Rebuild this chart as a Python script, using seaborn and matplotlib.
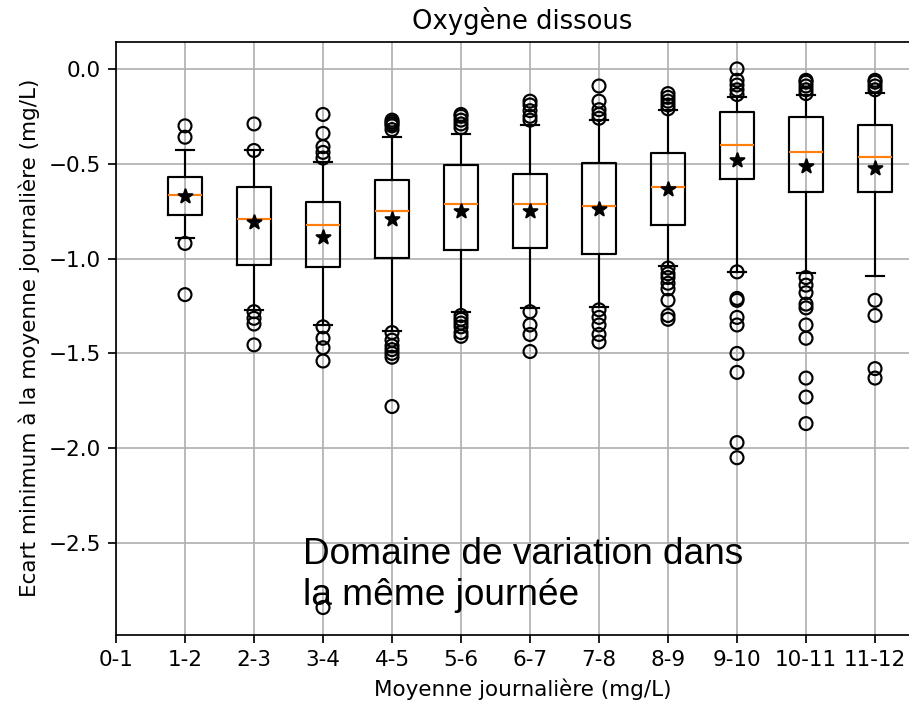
import numpy as np
import pandas as pd
import matplotlib
matplotlib.use('Agg')
import matplotlib.pyplot as plt
import seaborn as sns

# Classes de moyenne journalière (la première est vide)
tick_labels = ['0-1', '1-2', '2-3', '3-4', '4-5', '5-6', '6-7',
               '7-8', '8-9', '9-10', '10-11', '11-12']
groups = tick_labels[1:]

# Statistiques des boîtes
q1 = [-0.772, -1.035, -1.044, -0.995, -0.953, -0.944, -0.974, -0.825, -0.580, -0.650, -0.648]
q3 = [-0.571, -0.620, -0.699, -0.587, -0.506, -0.553, -0.496, -0.445, -0.228, -0.252, -0.296]
med = [-0.664, -0.790, -0.823, -0.748, -0.713, -0.713, -0.722, -0.624, -0.403, -0.438, -0.462]
mean = [-0.671, -0.808, -0.884, -0.793, -0.751, -0.751, -0.737, -0.631, -0.480, -0.513, -0.522]
whis_hi = [-0.426, -0.427, -0.489, -0.361, -0.342, -0.294, -0.268, -0.216, -0.146, -0.137, -0.128]
whis_lo = [-0.892, -1.270, -1.350, -1.380, -1.284, -1.258, -1.254, -1.039, -1.070, -1.077, -1.091]

# Valeurs extrêmes
fliers = {
    '1-2': [-0.30, -0.36, -0.92, -1.19],
    '2-3': [-0.29, -0.43, -1.28, -1.315, -1.345, -1.455],
    '3-4': [-0.24, -0.34, -0.41, -0.44, -0.47, -1.36, -1.42, -1.47, -1.54, -2.84],
    '4-5': [-0.27, -0.28, -0.29, -0.30, -0.32, -1.39, -1.43, -1.46, -1.48, -1.50, -1.52, -1.78],
    '5-6': [-0.24, -0.25, -0.27, -0.29, -0.31, -1.30, -1.32, -1.34, -1.36, -1.39, -1.41],
    '6-7': [-0.17, -0.19, -0.22, -0.25, -0.27, -1.28, -1.35, -1.40, -1.49],
    '7-8': [-0.09, -0.17, -0.215, -0.24, -0.26, -1.27, -1.31, -1.35, -1.40, -1.44],
    '8-9': [-0.13, -0.15, -0.17, -0.19, -0.21, -1.05, -1.08, -1.10, -1.13, -1.16, -1.22, -1.30, -1.32],
    '9-10': [0.0, -0.06, -0.085, -0.11, -0.135, -1.07, -1.21, -1.22, -1.31, -1.35, -1.50, -1.60, -1.97, -2.05],
    '10-11': [-0.06, -0.07, -0.09, -0.11, -0.13, -1.10, -1.14, -1.18, -1.24, -1.26, -1.35, -1.42, -1.63, -1.73, -1.87],
    '11-12': [-0.06, -0.07, -0.09, -0.11, -1.22, -1.30, -1.58, -1.63],
}

DPI = 155
fig = plt.figure(figsize=(909 / DPI, 705 / DPI), dpi=DPI)
ax = fig.add_axes([116 / 909, 70.5 / 705, 812.5 / 909, 592.5 / 705])

positions = [tick_labels.index(g) for g in groups]

# boîtes
stats = []
for i, g in enumerate(groups):
    stats.append({
        'label': g,
        'q1': q1[i],
        'q3': q3[i],
        'med': med[i],
        'whislo': whis_lo[i],
        'whishi': whis_hi[i],
        'fliers': [],
    })

ax.bxp(
    stats,
    positions=positions,
    widths=0.5,
    showfliers=False,
    medianprops=dict(color='#ff7f0e', linewidth=1),
    manage_ticks=False
)

# points extrêmes
flier_df = pd.DataFrame(
    [(tick_labels.index(g), v) for g in groups for v in fliers[g]],
    columns=['pos', 'val']
)
sns.scatterplot(
    data=flier_df, x='pos', y='val', ax=ax,
    marker='o', s=36, facecolor='none', edgecolor='black',
    linewidth=1, zorder=3
)

# moyennes
mean_df = pd.DataFrame({'pos': positions, 'val': mean})
sns.scatterplot(
    data=mean_df, x='pos', y='val', ax=ax,
    marker='*', s=45, color='black', edgecolor='black',
    linewidth=1, zorder=4
)

ax.set_xticks(range(len(tick_labels)))
ax.set_xticklabels(tick_labels)
ax.set_xlim(0, 11.775)
ax.set_ylim(-2.982, 0.142)
ax.grid(True)

ax.set_title('Oxygène dissous')
ax.set_xlabel('Moyenne journalière (mg/L)')
ax.set_ylabel('Ecart minimum à la moyenne journalière (mg/L)')

ax.text(
    2.71, -2.825,
    'Domaine de variation dans\nla même journée',
    fontsize=17.2, family=['Liberation Sans', 'DejaVu Sans'],
    va='baseline', ha='left'
)

fig.savefig('out.png', dpi=DPI)
